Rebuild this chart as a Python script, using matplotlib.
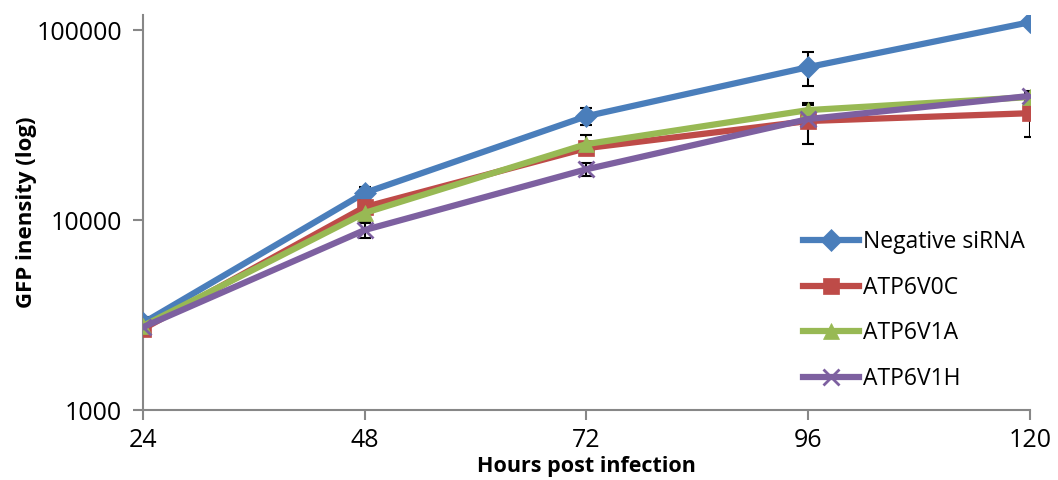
import numpy as np
import matplotlib.pyplot as plt
from matplotlib.ticker import FixedLocator, FixedFormatter, NullLocator

hours = [24, 48, 72, 96, 120]

neg = [2870, 13900, 35200, 63800, 110000]
neg_err = [200, 1000, 3500, 13000, 3000]
v0c = [2670, 11700, 23900, 33200, 36500]
v0c_err = [150, 1000, 1500, 8000, 9000]
v1a = [2770, 10900, 25100, 37900, 44400]
v1a_err = [150, 1000, 3000, 2500, 2500]
v1h = [2730, 8860, 18500, 34000, 45000]
v1h_err = [150, 800, 1500, 2500, 2500]

series = [
    ("Negative siRNA", neg, neg_err, "#4A7EBB", "D", 11),
    ("ATP6V0C", v0c, v0c_err, "#BE4B48", "s", 12),
    ("ATP6V1A", v1a, v1a_err, "#98B954", "^", 12),
    ("ATP6V1H", v1h, v1h_err, "#7D60A0", "x", 12),
]

plt.rcParams['font.family'] = ['Open Sans', 'DejaVu Sans']

fig = plt.figure(figsize=(10.58, 4.8), dpi=100)
ax = fig.add_axes([143 / 1058, 70 / 480, 887 / 1058, 395 / 480])

for name, vals, err, col, mk, ms in series:
    ax.errorbar(hours, vals, yerr=err, fmt="none", ecolor="black",
                elinewidth=1.5, capsize=4, capthick=1.5, zorder=2)
for name, vals, err, col, mk, ms in series:
    ax.plot(hours, vals, color=col, lw=4.5, marker=mk, markersize=ms,
            markeredgewidth=2 if mk == "x" else 0.5, markeredgecolor=col,
            markerfacecolor=col, label=name, zorder=3)

ax.set_yscale("log")
ax.set_ylim(1000, 120000)
ax.set_xlim(24, 120)
ax.yaxis.set_major_locator(FixedLocator([1000, 10000, 100000]))
ax.yaxis.set_major_formatter(FixedFormatter(["1000", "10000", "100000"]))
ax.yaxis.set_minor_locator(NullLocator())
ax.set_xticks(hours)
ax.set_xticklabels([str(h) for h in hours])

for s in ["top", "right"]:
    ax.spines[s].set_visible(False)
for s in ["left", "bottom"]:
    ax.spines[s].set_color("#878787")
    ax.spines[s].set_linewidth(1.5)
    ax.spines[s].set_zorder(1)
ax.tick_params(axis="both", colors="#878787", width=1.5, length=7,
               labelsize=18, labelcolor="black")
ax.tick_params(axis="x", pad=6)
ax.tick_params(axis="y", pad=8)

ax.set_ylabel("GFP inensity (log)", fontsize=16, fontweight="bold", labelpad=0)
ax.set_xlabel("Hours post infection", fontsize=15.5, fontweight="bold", labelpad=2)

leg = ax.legend(loc="upper left", bbox_to_anchor=(0.744, 0.455), frameon=False,
                fontsize=16.5, handlelength=2.45, labelspacing=0.94,
                handletextpad=0.15, borderaxespad=0, borderpad=0)

fig.savefig("out.png", dpi=100)
